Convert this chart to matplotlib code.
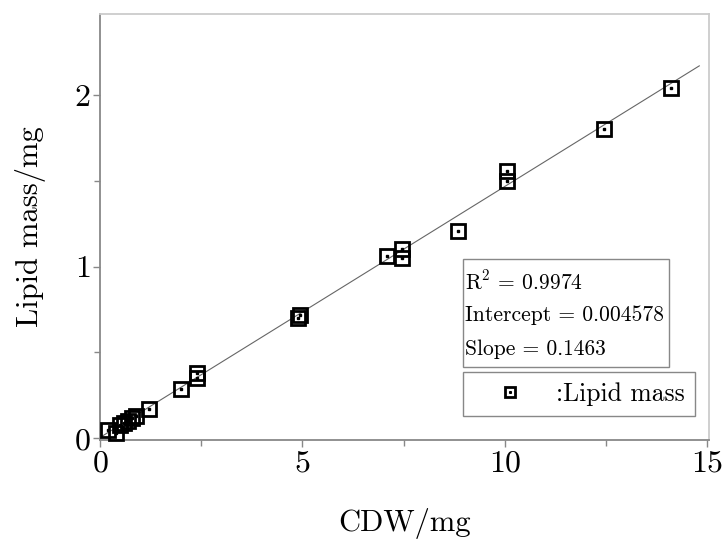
import matplotlib
matplotlib.use("Agg")
import matplotlib.pyplot as plt
from matplotlib.patches import Rectangle
from matplotlib.legend_handler import HandlerTuple
from matplotlib.ticker import MultipleLocator

plt.rcParams["font.family"] = "serif"
plt.rcParams["font.serif"] = ["cmr10", "DejaVu Serif"]
plt.rcParams["mathtext.fontset"] = "cm"
plt.rcParams["axes.unicode_minus"] = False
plt.rcParams["axes.formatter.use_mathtext"] = True

# CDW (mg) and lipid mass (mg) measurements
cdw = [0.2, 0.4, 0.5, 0.6, 0.7, 0.8, 0.9, 1.2, 2.0, 2.4, 2.4, 4.9, 4.95,
       7.1, 7.45, 7.45, 8.85, 10.05, 10.05, 12.45, 14.1]
lipid = [0.05, 0.03, 0.08, 0.09, 0.10, 0.12, 0.13, 0.17, 0.29, 0.35, 0.38,
         0.70, 0.72, 1.06, 1.05, 1.10, 1.21, 1.50, 1.56, 1.80, 2.04]

# linear fit results
r2 = 0.9974
intercept = 0.004578
slope = 0.1463
fit_x = [0.0, 14.8]

W, H = 727, 549
fig = plt.figure(figsize=(W / 100, H / 100), dpi=100)
ax = fig.add_axes([100 / W, 1 - 440 / H, 609 / W, 426 / H])

fit_y = [intercept + slope * x for x in fit_x]
ax.plot(fit_x, fit_y, color="#666666", lw=0.8, zorder=2)

sq = ax.plot(cdw, lipid, ls="none", marker="s", ms=10, mfc="none",
             mec="black", mew=2.0, clip_on=False, zorder=3)[0]
dot = ax.plot(cdw, lipid, ls="none", marker="s", ms=1.6, color="black",
              clip_on=False, zorder=4)[0]

ax.set_xlim(0, 15.04)
ax.set_ylim(-0.01, 2.472)
ax.xaxis.set_major_locator(MultipleLocator(5))
ax.xaxis.set_minor_locator(MultipleLocator(2.5))
ax.yaxis.set_major_locator(MultipleLocator(1))
ax.yaxis.set_minor_locator(MultipleLocator(0.5))
ax.tick_params(which="both", direction="out", color="#888888",
               labelsize=23, top=False, right=False)
ax.tick_params(which="major", length=5, width=1)
ax.tick_params(which="minor", length=4, width=1)
ax.tick_params(axis="x", pad=2)
ax.tick_params(axis="y", pad=2)

for side in ("left", "bottom"):
    ax.spines[side].set_color("#888888")
    ax.spines[side].set_linewidth(1.3)
for side in ("top", "right"):
    ax.spines[side].set_color("#cccccc")
    ax.spines[side].set_linewidth(1.3)

ax.set_xlabel("CDW/mg", fontsize=22, labelpad=22)
ax.set_ylabel("Lipid mass/mg", fontsize=22, labelpad=20)

# fit statistics box
fig.patches.append(Rectangle((463 / W, 1 - 367 / H), 206 / W, 108 / H,
                             transform=fig.transFigure, fill=False,
                             edgecolor="#888888", lw=1))
stats = [r"R$^2$ = %.4f" % r2,
         "Intercept = %.6f" % intercept,
         "Slope = %.4f" % slope]
for i, s in enumerate(stats):
    fig.text(465 / W, 1 - (282 + 33.5 * i) / H, s, fontsize=15.5,
             va="center", ha="left")

leg = ax.legend([(sq, dot)], [":Lipid mass"],
                handler_map={tuple: HandlerTuple(ndivide=1, pad=0)},
                loc="upper left", bbox_to_anchor=(463 / W, 1 - 372 / H),
                bbox_transform=fig.transFigure, borderaxespad=0,
                fontsize=18.5, fancybox=False, edgecolor="#888888",
                framealpha=1, handlelength=2.85, handletextpad=0.35,
                borderpad=0.4, markerscale=0.75)
leg.get_frame().set_linewidth(1)

fig.savefig("out.png", dpi=100)
